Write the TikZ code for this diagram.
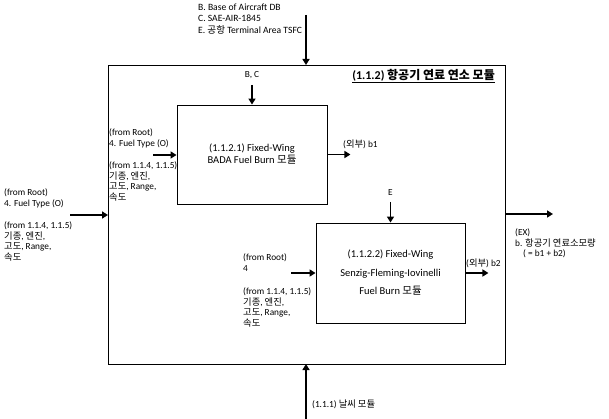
\documentclass[tikz,border=0pt]{standalone}
\usepackage{fontspec}
\setmainfont{Carlito}
\newfontfamily\krfont{Noto Sans CJK KR}
\newcommand{\ko}[1]{{\krfont #1}}
\usetikzlibrary{arrows.meta,positioning}

\begin{document}
\begin{tikzpicture}[x=1pt,y=-1pt,
	box/.style={draw,line width=0.9pt},
	arr/.style={line width=1.8pt,-{Triangle[length=6pt,width=7pt]}},
	lbl/.style={font=\fontsize{9.3}{10.6}\selectfont,align=left,inner sep=0pt,anchor=north west}]
	\useasboundingbox (0,0) rectangle (609,419);
	
	% outer module
	\coordinate (olt) at (108,65);
	\coordinate (orb) at (505,364);
	\draw[box] (olt) rectangle (orb);
	\node[font=\bfseries\fontsize{12}{14}\selectfont,anchor=east,inner sep=0pt] (title) at (495,76) {\underline{(1.1.2) \ko{항공기 연료 연소 모듈}}};
	
	% sub modules
	\node[box,minimum width=150,minimum height=99,align=center,font=\fontsize{10.5}{12}\selectfont] (m1) at (252,154.5) {(1.1.2.1) Fixed-Wing\\BADA Fuel Burn \ko{모듈}};
	\node[box,minimum width=149,minimum height=100,align=center,font=\fontsize{10.5}{18.5}\selectfont] (m2) at (390.5,273) {(1.1.2.2) Fixed-Wing\\Senzig-Fleming-Iovinelli\\Fuel Burn \ko{모듈}};
	
	% outer arrows
	\coordinate (topsrc) at (306,15);
	\draw[arr] (topsrc) -- (topsrc |- olt);
	\coordinate (botsrc) at (306,419);
	\draw[arr] (botsrc) -- (botsrc |- orb);
	\coordinate (lsrc) at (70,215);
	\draw[arr] (lsrc) -- (lsrc -| olt);
	\coordinate (rsrc) at (505,214);
	\draw[arr] (rsrc) -- ++(48,0) coordinate (rdst);
	
	% arrows of box 1
	\coordinate (m1in) at (153,155);
	\draw[arr] (m1in) -- (m1in -| m1.west);
	\coordinate (m1top) at (252,85);
	\draw[arr] (m1top) -- (m1.north);
	\draw[arr] (m1.east) -- ++(23,0) coordinate (m1out);
	
	% arrows of box 2
	\coordinate (m2in) at (291,273);
	\draw[arr] (m2in) -- (m2.west);
	\coordinate (m2top) at (390.5,202);
	\draw[arr] (m2top) -- (m2.north);
	\draw[arr] (m2.east) -- ++(23,0) coordinate (m2out);
	
	% labels
	\node[lbl,font=\fontsize{9.6}{11.5}\selectfont] (src) at (198,3.5) {B. Base of Aircraft DB\\C. SAE-AIR-1845\\E. \ko{공항} Terminal Area TSFC};
	\node[lbl,anchor=center] (bc) at (252,75) {B, C};
	\node[lbl,anchor=center] (e) at (390.5,193) {E};
	\node[lbl] (b1) at (343,139.5) {(\ko{외부}) b1};
	\node[lbl] (b2) at (466,258.5) {(\ko{외부}) b2};
	\node[lbl] (ex) at (515,228.5) {(EX)\\b. \ko{항공기 연료소모량}\\\hspace{8pt}( = b1 + b2)};
	\node[lbl] (wx) at (312,399.5) {(1.1.1) \ko{날씨 모듈}};
	
	\node[lbl] (lroot) at (4,188.5) {(from Root)\\4. Fuel Type (O)};
	\node[lbl] (lfrom) at (4,221.5) {(from 1.1.4, 1.1.5)\\\ko{기종}, \ko{엔진},\\\ko{고도}, Range,\\\ko{속도}};
	\node[lbl] (m1root) at (109,128.5) {(from Root)\\4. Fuel Type (O)};
	\node[lbl] (m1from) at (109,161.5) {(from 1.1.4, 1.1.5)\\\ko{기종}, \ko{엔진},\\\ko{고도}, Range,\\\ko{속도}};
	\node[lbl] (m2root) at (243,253.5) {(from Root)\\4};
	\node[lbl] (m2from) at (243,287.5) {(from 1.1.4, 1.1.5)\\\ko{기종}, \ko{엔진},\\\ko{고도}, Range,\\\ko{속도}};
\end{tikzpicture}
\end{document}
